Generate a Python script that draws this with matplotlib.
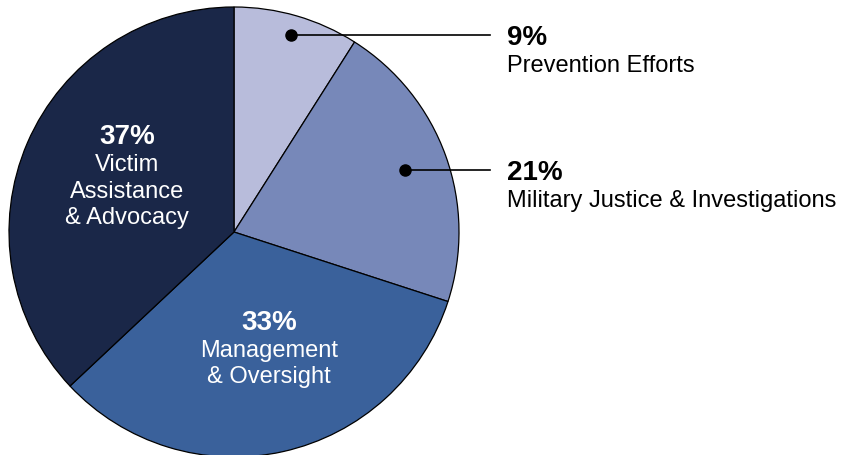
import numpy as np
import matplotlib
matplotlib.use("Agg")
import matplotlib.pyplot as plt

plt.rcParams['font.family'] = ['Liberation Sans', 'DejaVu Sans']

# data, clockwise from the top
shares = [9, 21, 33, 37]
names = ["Prevention Efforts", "Military Justice & Investigations",
         "Management\n& Oversight", "Victim\nAssistance\n& Advocacy"]
colors = ["#b8bcdb", "#7788b9", "#3a619b", "#1a2748"]
outside = [True, True, False, False]

W, H = 846, 455
fig = plt.figure(figsize=(W / 100, H / 100), dpi=100)
ax = fig.add_axes([0, 0, 1, 1])

cx, cy, r = 234, H - 232, 225
wedges, _ = ax.pie(shares, colors=colors, startangle=90, counterclock=False,
                   center=(cx, cy), radius=r,
                   wedgeprops=dict(edgecolor="black", linewidth=0.9))
ax.set_xlim(0, W)
ax.set_ylim(0, H)
ax.set_aspect("equal")
ax.axis("off")

# dot distance (fraction of radius) for the callout labels
dot_frac = {0: 0.91, 1: 0.81}
text_x = 507
# header baseline of the labels inside the pie (pixels from top)
inner_pos = {2: (269, 330), 3: (127, 144)}

for i, w in enumerate(wedges):
    if outside[i]:
        mid = np.deg2rad((w.theta1 + w.theta2) / 2)
        d = dot_frac[i] * r
        px, py = cx + d * np.cos(mid), cy + d * np.sin(mid)
        ax.plot([px, 490], [py, py], color="black", lw=1.2)
        ax.plot(px, py, "o", color="black", ms=8)
        ax.text(text_x, py - 10, f"{shares[i]}%", fontsize=20, fontweight="bold",
                ha="left", va="baseline")
        ax.text(text_x, py - 37, names[i], fontsize=17, ha="left", va="baseline")
    else:
        x, yb = inner_pos[i]
        ax.text(x, H - yb, f"{shares[i]}%", fontsize=20, fontweight="bold",
                color="white", ha="center", va="baseline")
        for k, line in enumerate(names[i].split("\n")):
            ax.text(x, H - (yb + 27 + 26.5 * k), line, fontsize=17,
                    color="white", ha="center", va="baseline")

fig.savefig("out.png", dpi=100)
